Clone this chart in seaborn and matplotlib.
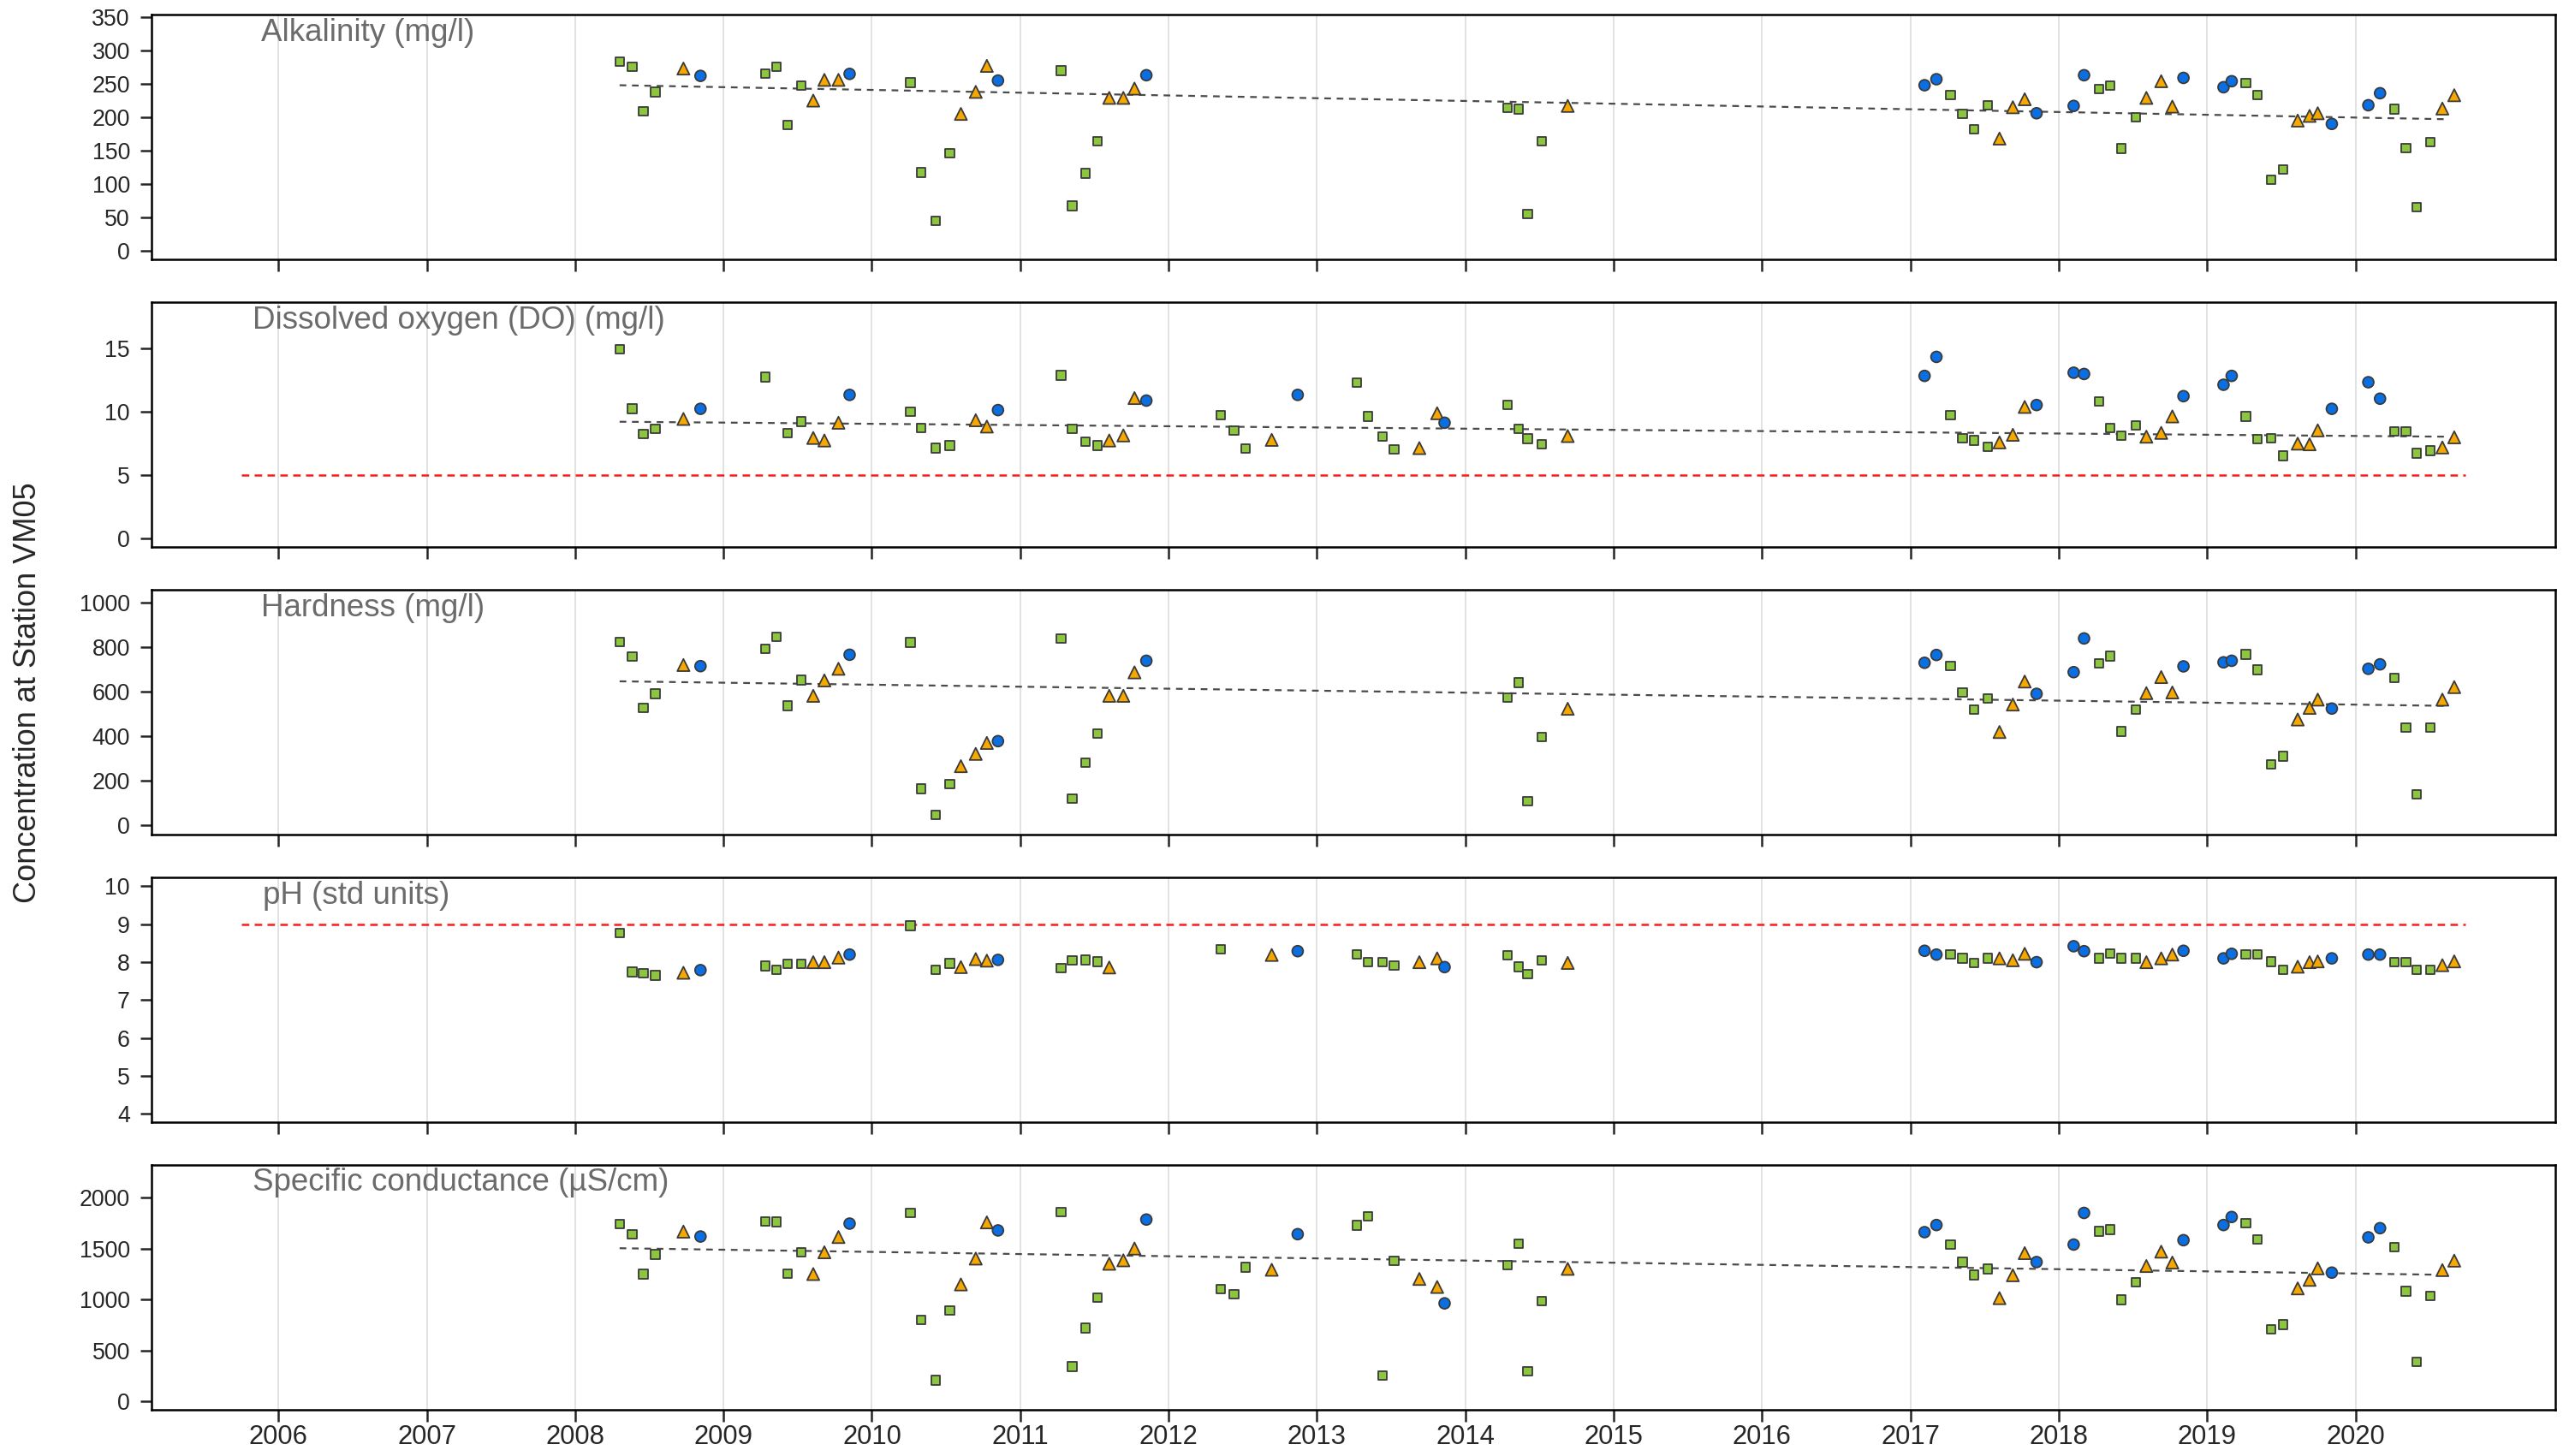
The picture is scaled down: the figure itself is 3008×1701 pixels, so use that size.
import numpy as np
import pandas as pd
import matplotlib
matplotlib.use("Agg")
import matplotlib.pyplot as plt
import seaborn as sns

nan = np.nan

# sampling dates (decimal years) and season class of each sample
sample_year = [
    2008.30, 2008.385, 2008.46, 2008.54, 2008.73, 2008.845,
    2009.28, 2009.355, 2009.43, 2009.525, 2009.605, 2009.68, 2009.775, 2009.85,
    2010.26, 2010.33, 2010.43, 2010.525, 2010.60, 2010.70, 2010.775, 2010.85,
    2011.275, 2011.35, 2011.44, 2011.52, 2011.60, 2011.695, 2011.77, 2011.85,
    2012.35, 2012.44, 2012.52, 2012.695, 2012.87,
    2013.27, 2013.345, 2013.44, 2013.52, 2013.69, 2013.81, 2013.86,
    2014.285, 2014.36, 2014.42, 2014.515, 2014.69,
    2017.095, 2017.175, 2017.27, 2017.35, 2017.43, 2017.52, 2017.60, 2017.69, 2017.77, 2017.85,
    2018.10, 2018.17, 2018.27, 2018.345, 2018.42, 2018.52, 2018.59, 2018.69, 2018.765, 2018.84,
    2019.11, 2019.165, 2019.26, 2019.34, 2019.43, 2019.51, 2019.61, 2019.69, 2019.745, 2019.84,
    2020.086, 2020.165, 2020.26, 2020.34, 2020.41, 2020.505, 2020.585, 2020.665,
]
season = (
    ["S", "S", "S", "S", "F", "W"]
    + ["S", "S", "S", "S", "F", "F", "F", "W"] * 3
    + ["S", "S", "S", "F", "W"]
    + ["S", "S", "S", "S", "F", "F", "W"]
    + ["S", "S", "S", "S", "F"]
    + ["W", "W", "S", "S", "S", "S", "F", "F", "F", "W"] * 3
    + ["W", "W", "S", "S", "S", "S", "F", "F"]
)

alkalinity = [
    283, 276, 209, 238, 273, 262,
    265, 276, 188, 247, 225, 256, 256, 265,
    252, 117, 45, 146, 205, 238, 277, 255,
    270, 67, 116, 164, 229, 229, 243, 263,
    nan, nan, nan, nan, nan,
    nan, nan, nan, nan, nan, nan, nan,
    214, 212, 55, 164, 217,
    248, 257, 233, 205, 182, 218, 168, 215, 227, 206,
    217, 263, 242, 247, 153, 200, 229, 254, 216, 259,
    245, 254, 251, 233, 106, 122, 195, 202, 206, 190,
    218, 236, 212, 154, 65, 163, 213, 233,
]
dissolved_oxygen = [
    14.9, 10.2, 8.2, 8.6, 9.4, 10.2,
    12.7, nan, 8.3, 9.2, 7.9, 7.7, 9.1, 11.3,
    9.95, 8.7, 7.1, 7.3, nan, 9.3, 8.8, 10.1,
    12.85, 8.6, 7.6, 7.3, 7.7, 8.1, 11.05, 10.85,
    9.7, 8.5, 7.05, 7.75, 11.3,
    12.25, 9.6, 8.0, 7.0, 7.1, 9.85, 9.1,
    10.5, 8.6, 7.85, 7.4, 8.05,
    12.8, 14.3, 9.7, 7.9, 7.7, 7.2, 7.55, 8.15, 10.35, 10.5,
    13.05, 12.95, 10.8, 8.7, 8.1, 8.9, 8.0, 8.3, 9.6, 11.2,
    12.1, 12.8, 9.6, 7.8, 7.9, 6.5, 7.45, 7.4, 8.5, 10.2,
    12.3, 11.0, 8.4, 8.4, 6.7, 6.9, 7.15, 7.95,
]
hardness = [
    822, 758, 527, 590, 719, 714,
    791, 846, 536, 652, 581, 650, 702, 765,
    820, 165, 49, 187, 266, 321, 370, 378,
    838, 122, 281, 413, 581, 581, 686, 738,
    nan, nan, nan, nan, nan,
    nan, nan, nan, nan, nan, nan, nan,
    573, 640, 109, 396, 523,
    729, 764, 714, 596, 518, 568, 419, 542, 645, 590,
    687, 838, 727, 759, 422, 520, 593, 665, 596, 713,
    731, 738, 767, 697, 273, 310, 475, 527, 564, 524,
    702, 722, 661, 440, 140, 440, 564, 620,
]
ph = [
    8.77, 7.74, 7.71, 7.65, 7.72, 7.79,
    7.9, 7.8, 7.95, 7.95, 8.0, 8.0, 8.12, 8.2,
    8.96, nan, 7.8, 7.97, 7.87, 8.08, 8.04, 8.06,
    7.84, 8.05, 8.06, 8.01, 7.86, nan, nan, nan,
    8.34, nan, nan, 8.19, 8.29,
    8.21, 8.0, 8.0, 7.91, 8.0, 8.1, 7.87,
    8.18, 7.88, 7.68, 8.05, 7.98,
    8.3, 8.2, 8.2, 8.1, 7.98, 8.1, 8.1, 8.05, 8.22, 8.0,
    8.42, 8.29, 8.1, 8.22, 8.1, 8.1, 8.0, 8.1, 8.2, 8.3,
    8.1, 8.22, 8.2, 8.2, 8.01, 7.8, 7.88, 8.0, 8.02, 8.1,
    8.2, 8.2, 8.0, 8.0, 7.8, 7.8, 7.92, 8.02,
]
conductance = [
    1741, 1642, 1250, 1442, 1667, 1619,
    1769, 1763, 1255, 1462, 1250, 1464, 1614, 1746,
    1853, 801, 206, 891, 1148, 1402, 1758, 1679,
    1862, 341, 719, 1016, 1351, 1385, 1501, 1786,
    1103, 1049, 1318, 1292, 1642,
    1729, 1817, 254, 1380, 1202, 1123, 962,
    1337, 1546, 296, 982, 1301,
    1662, 1732, 1540, 1368, 1241, 1301, 1013, 1238, 1456, 1368,
    1540, 1851, 1670, 1687, 996, 1171, 1329, 1470, 1363, 1583,
    1732, 1811, 1749, 1588, 708, 753, 1109, 1193, 1306, 1264,
    1611, 1701, 1512, 1081, 384, 1033, 1289, 1382,
]

panel_titles = ["Alkalinity (mg/l)", "Dissolved oxygen (DO) (mg/l)", "Hardness (mg/l)",
                "pH (std units)", "Specific conductance (\u00b5S/cm)"]
panel_series = [alkalinity, dissolved_oxygen, hardness, ph, conductance]
trend_years = [2008.30, 2020.62]
trend_start = [248, 9.18, 646, None, 1504]
trend_end = [197, 8.0, 536, None, 1242]
ref_years = [2005.75, 2020.74]
ref_level = [None, 5, None, 9, None]
y_ticks = [list(range(0, 351, 50)), [0, 5, 10, 15], list(range(0, 1001, 200)),
           list(range(4, 11)), list(range(0, 2001, 500))]
y_limits = [(-13.4, 353.5), (-0.72, 18.6), (-41, 1055), (3.78, 10.23), (-85, 2321)]
year_ticks = list(range(2006, 2021))

# styling
title_x = [0.0455, 0.0418, 0.0455, 0.0462, 0.0418]
season_colors = {"W": "#0a6fe3", "S": "#8cc63f", "F": "#f7a800"}
season_markers = {"W": "o", "S": "s", "F": "^"}
season_sizes = {"W": 85, "S": 55, "F": 105}

sns.set_style("white")
plt.rcParams["font.family"] = ["Liberation Sans", "DejaVu Sans"]

fig, axes = plt.subplots(5, 1, figsize=(30.08, 17.01), dpi=100, sharex=True)
fig.subplots_adjust(left=0.0589, right=0.9924, top=0.9898, bottom=0.0317, hspace=0.175)

for i, ax in enumerate(axes):
    df = pd.DataFrame({"year": sample_year, "value": panel_series[i], "season": season}).dropna()

    for yr in year_ticks:
        ax.axvline(yr, color="#e2e2e2", lw=1.4, zorder=0)
    if ref_level[i] is not None:
        ax.hlines(ref_level[i], ref_years[0], ref_years[1], colors="#ff1a1a",
                  linestyles=(0, (3.5, 2.5)), lw=1.8, zorder=1)
    if trend_start[i] is not None:
        ax.plot(trend_years, [trend_start[i], trend_end[i]], color="#4a4a4a",
                ls=(0, (3.5, 3)), lw=1.6, zorder=2)

    sns.scatterplot(data=df, x="year", y="value", hue="season", style="season", size="season",
                    palette=season_colors, markers=season_markers, sizes=season_sizes,
                    edgecolor="#3a3a3a", linewidth=1.3, legend=False, ax=ax, zorder=3)

    ax.set_xlim(2005.146, 2021.347)
    ax.set_ylim(y_limits[i])
    ax.set_yticks(y_ticks[i])
    ax.set_xlabel("")
    ax.set_ylabel("")
    ax.text(title_x[i], 0.894, panel_titles[i], transform=ax.transAxes, ha="left",
            va="baseline", fontsize=26.5, color="#6b6b6b")
    for sp in ax.spines.values():
        sp.set_visible(True)
        sp.set_linewidth(1.8)
        sp.set_color("black")
    ax.tick_params(axis="y", direction="out", length=9.2, width=1.8, labelsize=19.3, pad=9, left=True)
    ax.tick_params(axis="x", direction="out", length=10.4, width=1.8, labelsize=22.3, pad=2,
                   bottom=True, labelbottom=(i == 4))

axes[-1].set_xticks(year_ticks)
fig.text(0.0108, 0.524, "Concentration at Station VM05", rotation=90, fontsize=26,
         va="center", ha="center")

fig.savefig("out.png", dpi=100)
